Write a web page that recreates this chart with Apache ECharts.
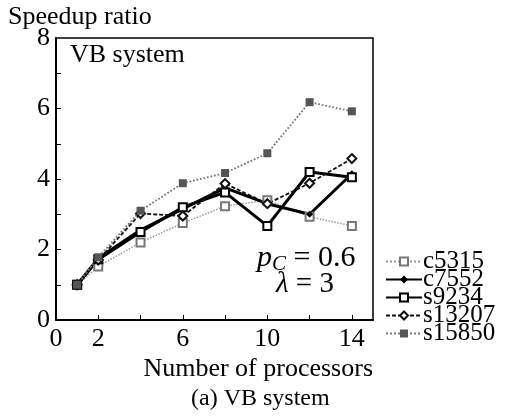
<!DOCTYPE html>
<html style="height: 100%">
<head>
    <meta charset="UTF-8">
    <title>Speedup ratio - VB system</title>
    <script src="https://cdn.jsdelivr.net/npm/echarts/dist/echarts.min.js"></script>
    <style>
        #main { width: 515px; height: 418px; }
    </style>
</head>
<body style="height: 100%; margin: 0; background: #fff">
    <div id="main"></div>
    <script type="text/javascript">
        var processors = [1, 2, 4, 6, 8, 10, 12, 14];
        var c5315 = [1, 1.52, 2.2, 2.75, 3.23, 3.4, 2.93, 2.67];
        var c7552 = [1, 1.75, 2.55, 3.15, 3.75, 3.3, 3.0, 4.15];
        var s9234 = [1, 1.72, 2.5, 3.2, 3.62, 2.67, 4.2, 4.05];
        var s13207 = [1, 1.7, 3.02, 2.95, 3.87, 3.3, 3.88, 4.58];
        var s15850 = [1, 1.78, 3.1, 3.88, 4.17, 4.73, 6.18, 5.92];
        var xLabels = [0, 2, 6, 10, 14];
        var xTicks = [2, 4, 6, 8, 10, 12, 14];
        var yLabels = [0, 2, 4, 6, 8];
        var yTicks = [1, 2, 3, 4, 5, 6, 7];

        var FONT = 'Liberation Serif';

        function pairs(ys) {
            return processors.map(function (x, i) { return [x, ys[i]]; });
        }

        var chartDom = document.getElementById('main');
        var myChart = echarts.init(chartDom);

        var option = {
            animation: false,
            textStyle: { fontFamily: FONT, color: '#000' },
            grid: {
                left: 56, right: 142, top: 38, bottom: 98,
                show: true, borderColor: '#000', borderWidth: 1.5
            },
            xAxis: {
                type: 'value', min: 0, max: 15,
                name: 'Number of processors',
                nameLocation: 'end', nameGap: 0,
                nameTextStyle: {
                    fontSize: 26, fontFamily: FONT, color: '#000',
                    align: 'right', verticalAlign: 'top', padding: [36, 0, 0, 0]
                },
                axisLine: { lineStyle: { color: '#000', width: 2 } },
                axisTick: { inside: true, length: 5, customValues: xTicks, lineStyle: { color: '#000' } },
                axisLabel: { customValues: xLabels, fontSize: 26, fontFamily: FONT, color: '#000', margin: 6 },
                splitLine: { show: false }
            },
            yAxis: {
                type: 'value', min: 0, max: 8,
                axisLine: { lineStyle: { color: '#000', width: 2 } },
                axisTick: { inside: true, length: 5, customValues: yTicks, lineStyle: { color: '#000' } },
                axisLabel: { customValues: yLabels, fontSize: 26, fontFamily: FONT, color: '#000', margin: 6 },
                splitLine: { show: false }
            },
            legend: {
                orient: 'vertical', left: 380, top: 244,
                itemWidth: 36, itemHeight: 10, itemGap: -7,
                textStyle: { fontSize: 25, fontFamily: FONT, color: '#000', padding: [0, 0, 0, -4] },
                data: ['c5315', 'c7552', 's9234', 's13207', 's15850']
            },
            graphic: [
                { type: 'text', left: 8, top: 4, style: { text: 'Speedup ratio', font: '26px "Liberation Serif"', fill: '#000' } },
                { type: 'text', left: 70, top: 42, style: { text: 'VB system', font: '26px "Liberation Serif"', fill: '#000' } },
                {
                    type: 'text', left: 257, top: 243,
                    style: {
                        text: '{i|p}{s|C}{n| = 0.6}', fill: '#000',
                        rich: {
                            i: { fontSize: 30, fontFamily: FONT, fontStyle: 'italic' },
                            s: { fontSize: 21, fontFamily: FONT, fontStyle: 'italic', padding: [12, 0, 0, 0] },
                            n: { fontSize: 30, fontFamily: FONT }
                        }
                    }
                },
                {
                    type: 'text', left: 276, top: 270,
                    style: {
                        text: '{i|λ}{n| = 3}', fill: '#000',
                        rich: {
                            i: { fontSize: 29, fontFamily: FONT, fontStyle: 'italic' },
                            n: { fontSize: 29, fontFamily: FONT }
                        }
                    }
                },
                { type: 'text', left: 191, top: 387, style: { text: '(a) VB system', font: '24px "Liberation Serif"', fill: '#000' } }
            ],
            series: [
                {
                    name: 'c5315', type: 'line', data: pairs(c5315),
                    symbol: 'emptyRect', symbolSize: 8,
                    lineStyle: { color: '#999', width: 1.5, type: 'dotted' },
                    itemStyle: { color: '#777', borderWidth: 1.2 }
                },
                {
                    name: 'c7552', type: 'line', data: pairs(c7552),
                    symbol: 'diamond', symbolSize: 7,
                    lineStyle: { color: '#000', width: 3 },
                    itemStyle: { color: '#000' }
                },
                {
                    name: 's9234', type: 'line', data: pairs(s9234),
                    symbol: 'emptyRect', symbolSize: 8,
                    lineStyle: { color: '#000', width: 3 },
                    itemStyle: { color: '#000', borderWidth: 2.5 }
                },
                {
                    name: 's13207', type: 'line', data: pairs(s13207),
                    symbol: 'emptyDiamond', symbolSize: 9,
                    lineStyle: { color: '#111', width: 1.8, type: [4, 2] },
                    itemStyle: { color: '#111', borderWidth: 1.2 }
                },
                {
                    name: 's15850', type: 'line', data: pairs(s15850),
                    symbol: 'rect', symbolSize: 8,
                    lineStyle: { color: '#777', width: 1.8, type: 'dotted' },
                    itemStyle: { color: '#555' }
                }
            ]
        };

        myChart.setOption(option);
    </script>
</body>
</html>
